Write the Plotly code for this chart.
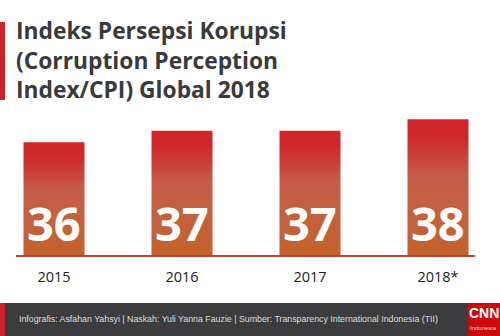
import plotly.graph_objects as go

# ---- data ----
years = ["2015", "2016", "2017", "2018*"]
cpi_values = [36, 37, 37, 38]

title_lines = ["Indeks Persepsi Korupsi", "(Corruption Perception", "Index/CPI) Global 2018"]
footer_text = "Infografis: Asfahan Yahsyi | Naskah: Yuli Yanna Fauzie | Sumber: Transparency International Indonesia (TII)"

# ---- layout constants ----
W, H = 500, 336
ML, MR, MT, MB = 16, 25, 105, 81
PW, PH = W - ML - MR, H - MT - MB
Y_MIN = 26.2
PX_PER_UNIT = 11.5
Y_MAX = Y_MIN + PH / PX_PER_UNIT
X_SPACING = 128.0
X_MIN = -(54 - ML) / X_SPACING
X_MAX = X_MIN + PW / X_SPACING
HALF_W = 30.5 / X_SPACING


def px(x):
    return (x - ML) / PW


def py(y):
    return (H - MB - y) / PH


grad = [[0.0, "#c1622b"], [0.35, "#c4623f"], [0.6, "#c65a48"],
        [0.8, "#cc3433"], [0.88, "#d0272a"], [1.0, "#d0262a"]]

fig = go.Figure()
annotations = []
for i, v in enumerate(cpi_values):
    fig.add_trace(go.Scatter(
        x=[i - HALF_W, i + HALF_W, i + HALF_W, i - HALF_W, i - HALF_W],
        y=[Y_MIN, Y_MIN, v, v, Y_MIN],
        mode="lines", line=dict(width=0), fill="toself",
        fillgradient=dict(type="vertical", colorscale=grad, start=Y_MIN, stop=v),
        hoverinfo="skip", showlegend=False,
    ))
    annotations.append(dict(x=i, y=py(223), xref="x", yref="paper", text=f"<b>{v}</b>",
                            showarrow=False, font=dict(family="Open Sans", size=47, color="white"),
                            xanchor="center", yanchor="middle"))

shapes = [
    # title accent
    dict(type="rect", xref="paper", yref="paper", x0=px(0), x1=px(5), y0=py(100), y1=py(22),
         fillcolor="#d0202a", line=dict(width=0)),
    # footer band
    dict(type="rect", xref="paper", yref="paper", x0=px(0), x1=px(500), y0=py(336), y1=py(303),
         fillcolor="#3c3c3e", line=dict(width=0)),
    dict(type="rect", xref="paper", yref="paper", x0=px(0), x1=px(5), y0=py(336), y1=py(303),
         fillcolor="#d0202a", line=dict(width=0)),
    # logo box
    dict(type="rect", xref="paper", yref="paper", x0=px(468), x1=px(500), y0=py(336), y1=py(303),
         fillcolor="#cc0a0a", line=dict(width=0)),
]

for k, line in enumerate(title_lines):
    annotations.append(dict(x=px(14), y=py(31 + k * 29.5), xref="paper", yref="paper",
                            text=f"<b>{line}</b>", showarrow=False, xanchor="left", yanchor="middle",
                            font=dict(family="Open Sans", size=22.8, color="#3a3a3a")))
annotations.append(dict(x=px(17), y=py(319), xref="paper", yref="paper", text=footer_text,
                        showarrow=False, xanchor="left", yanchor="middle",
                        font=dict(family="Liberation Sans", size=8.8, color="#dcdcdc")))
annotations.append(dict(x=px(484), y=py(313), xref="paper", yref="paper", text="<b>CNN</b>",
                        showarrow=False, xanchor="center", yanchor="middle",
                        font=dict(family="Liberation Sans Narrow, Liberation Sans", size=14, color="white")))
annotations.append(dict(x=px(484), y=py(328), xref="paper", yref="paper", text="Indonesia",
                        showarrow=False, xanchor="center", yanchor="middle",
                        font=dict(family="Liberation Sans", size=6, color="#f3d0d0")))

fig.update_layout(
    width=W, height=H, margin=dict(l=ML, r=MR, t=MT, b=MB),
    paper_bgcolor="white", plot_bgcolor="white",
    shapes=shapes, annotations=annotations, showlegend=False,
    xaxis=dict(range=[X_MIN, X_MAX], tickmode="array", tickvals=list(range(len(years))),
               ticktext=years, showgrid=False, zeroline=False, showline=True,
               linecolor="#b94537", linewidth=1.5, ticks="", ticklabelstandoff=8,
               tickfont=dict(family="Open Sans", size=14.5, color="#222222"), fixedrange=True),
    yaxis=dict(range=[Y_MIN, Y_MAX], visible=False, fixedrange=True),
)

fig.write_html("out.html")
